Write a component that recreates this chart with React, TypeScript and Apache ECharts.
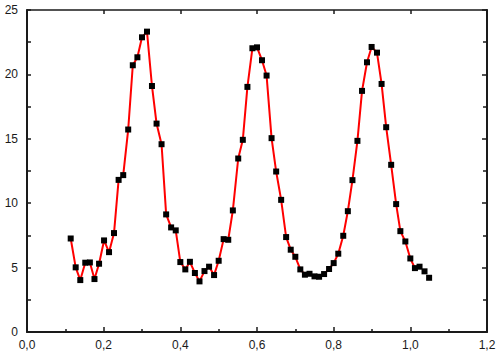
import React, { useEffect, useRef } from "react";
import * as echarts from "echarts";

const xValues = [
  0.114, 0.127, 0.139, 0.152, 0.164, 0.176, 0.188, 0.201, 0.214, 0.227,
  0.239, 0.251, 0.264, 0.276, 0.288, 0.300, 0.313, 0.326, 0.338, 0.351,
  0.363, 0.376, 0.388, 0.400, 0.413, 0.425, 0.438, 0.450, 0.463, 0.475,
  0.488, 0.500, 0.513, 0.525, 0.537, 0.551, 0.563, 0.575, 0.588, 0.600,
  0.613, 0.625, 0.638, 0.650, 0.663, 0.676, 0.688, 0.700, 0.713, 0.725,
  0.737, 0.750, 0.762, 0.775, 0.788, 0.800, 0.812, 0.825, 0.837, 0.849,
  0.862, 0.874, 0.887, 0.899, 0.913, 0.925, 0.937, 0.950, 0.963, 0.974,
  0.987, 1.000, 1.012, 1.024, 1.037, 1.049,
];

const yValues = [
  7.26, 5.02, 4.03, 5.38, 5.40, 4.11, 5.30, 7.11, 6.20, 7.68,
  11.81, 12.18, 15.72, 20.71, 21.33, 22.88, 23.32, 19.10, 16.18, 14.58,
  9.13, 8.12, 7.89, 5.43, 4.86, 5.45, 4.58, 3.93, 4.73, 5.07,
  4.42, 5.53, 7.21, 7.16, 9.44, 13.47, 14.92, 19.03, 22.03, 22.10,
  21.10, 19.91, 15.05, 12.46, 10.26, 7.37, 6.39, 5.84, 4.86, 4.45,
  4.52, 4.32, 4.29, 4.50, 4.89, 5.35, 6.08, 7.47, 9.38, 11.79,
  14.84, 18.72, 20.94, 22.13, 21.69, 19.26, 15.90, 12.98, 9.93, 7.83,
  7.03, 5.71, 4.96, 5.07, 4.71, 4.21,
];

// number of leading points joined by the red line
const linedCount = 73;

const FONT = "'Liberation Sans', Arial, sans-serif";
const AXIS_COLOR = "#1a1a1a";

export default function App() {
  const ref = useRef<HTMLDivElement>(null);

  useEffect(() => {
    if (!ref.current) return;
    const chart = echarts.init(ref.current, null, { renderer: "svg" });
    const points = xValues.map((x, i) => [x, yValues[i]]);
    const linePoints = points.slice(0, linedCount);

    const fmtX = (v: number) => v.toFixed(1).replace(".", ",");

    chart.setOption({
      animation: false,
      backgroundColor: "#ffffff",
      grid: { left: 27, right: 13, top: 10, bottom: 24, containLabel: false },
      xAxis: [
        {
          type: "value",
          min: 0,
          max: 1.2,
          interval: 0.2,
          position: "bottom",
          axisLine: { show: true, onZero: false, lineStyle: { color: AXIS_COLOR, width: 2 } },
          axisTick: { show: true, inside: true, length: 5, lineStyle: { color: AXIS_COLOR, width: 1.5 } },
          minorTick: { show: true, splitNumber: 2, length: 3, lineStyle: { color: AXIS_COLOR, width: 1.5 } },
          splitLine: { show: false },
          axisLabel: {
            show: true,
            margin: 7,
            color: "#1a1a1a",
            fontFamily: FONT,
            fontSize: 12,
            formatter: fmtX,
          },
        },
        {
          type: "value",
          min: 0,
          max: 1.2,
          interval: 0.2,
          position: "top",
          axisLine: { show: true, onZero: false, lineStyle: { color: AXIS_COLOR, width: 1.5 } },
          axisTick: { show: true, inside: true, length: 4, lineStyle: { color: AXIS_COLOR, width: 1.5 } },
          minorTick: { show: false },
          splitLine: { show: false },
          axisLabel: { show: false },
        },
      ],
      yAxis: [
        {
          type: "value",
          min: 0,
          max: 25,
          interval: 5,
          position: "left",
          axisLine: { show: true, onZero: false, lineStyle: { color: AXIS_COLOR, width: 2 } },
          axisTick: { show: true, inside: true, length: 4, lineStyle: { color: AXIS_COLOR, width: 1.5 } },
          minorTick: { show: true, splitNumber: 2, length: 4, lineStyle: { color: AXIS_COLOR, width: 1.5 } },
          splitLine: { show: false },
          axisLabel: {
            show: true,
            margin: 9,
            color: "#1a1a1a",
            fontFamily: FONT,
            fontSize: 12,
          },
        },
        {
          type: "value",
          min: 0,
          max: 25,
          interval: 5,
          position: "right",
          axisLine: { show: true, onZero: false, lineStyle: { color: AXIS_COLOR, width: 2 } },
          axisTick: { show: true, inside: true, length: 5, lineStyle: { color: AXIS_COLOR, width: 1.5 } },
          minorTick: { show: true, splitNumber: 2, length: 4, lineStyle: { color: AXIS_COLOR, width: 1.5 } },
          splitLine: { show: false },
          axisLabel: { show: false },
        },
      ],
      series: [
        {
          type: "line",
          xAxisIndex: 0,
          yAxisIndex: 0,
          data: linePoints,
          showSymbol: false,
          symbol: "none",
          lineStyle: { color: "#ff0000", width: 2 },
          z: 2,
        },
        {
          type: "scatter",
          xAxisIndex: 0,
          yAxisIndex: 0,
          data: points,
          symbol: "rect",
          symbolSize: 6,
          itemStyle: { color: "#000000", opacity: 1 },
          z: 3,
        },
      ],
    });

    return () => {
      chart.dispose();
    };
  }, []);

  return (
    <div
      ref={ref}
      style={{ position: "fixed", left: 0, top: 0, width: 500, height: 356, background: "#fff" }}
    />
  );
}
